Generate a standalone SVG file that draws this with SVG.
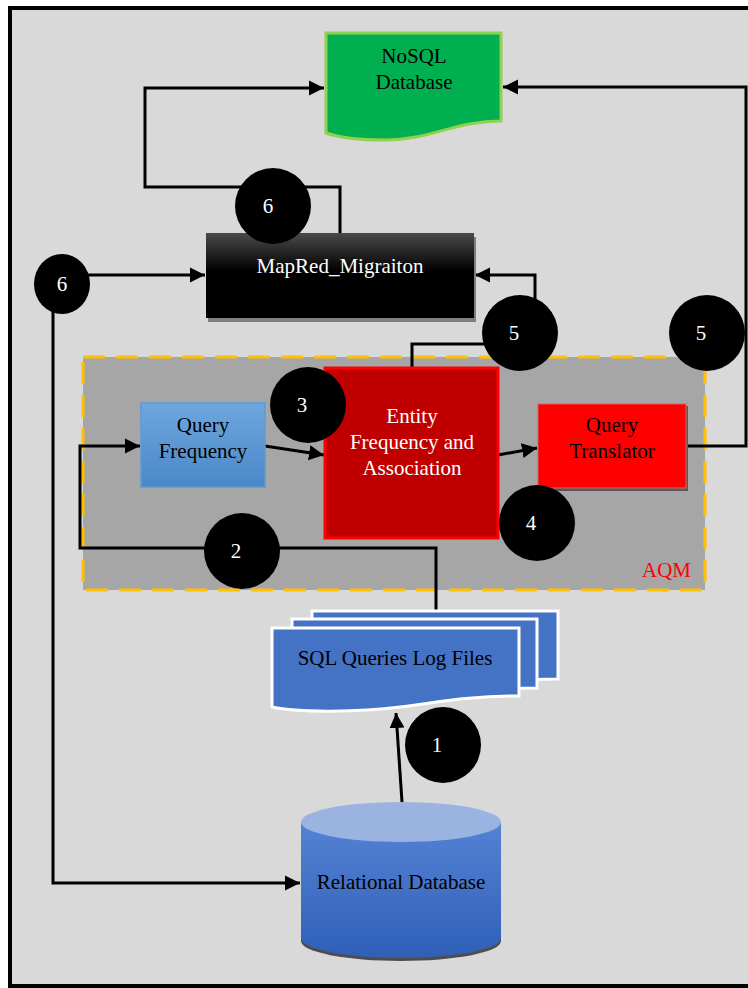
<svg xmlns="http://www.w3.org/2000/svg" width="748" height="988" viewBox="0 0 748 988">
<defs>
<style>
.t{font-family:"Liberation Serif","Times New Roman",serif;font-size:21px;text-anchor:middle}
.w{fill:#ffffff}
.k{fill:#000000}
.conn{fill:none;stroke:#000;stroke-width:3}
.num{fill:#000}
.doc{fill:#4472c4;stroke:#ffffff;stroke-width:3}
</style>
<marker id="ah" markerUnits="userSpaceOnUse" markerWidth="16" markerHeight="16" refX="15" refY="8" orient="auto">
<path d="M0,0.5 L15,8 L0,15.5 z" fill="#000"/>
</marker>
<linearGradient id="gMap" x1="0" y1="0" x2="0" y2="1">
<stop offset="0" stop-color="#4a4a4a"/>
<stop offset="0.45" stop-color="#000"/>
<stop offset="1" stop-color="#000"/>
</linearGradient>
<linearGradient id="gQF" x1="0" y1="0" x2="0" y2="1">
<stop offset="0" stop-color="#6fa6de"/>
<stop offset="1" stop-color="#4a88c9"/>
</linearGradient>
<linearGradient id="gCyl" x1="0" y1="0" x2="0" y2="1">
<stop offset="0" stop-color="#5482d4"/>
<stop offset="1" stop-color="#2f5fb7"/>
</linearGradient>
</defs>

<rect id="frame" x="10" y="8" width="760" height="978" fill="#d9d9d9" stroke="#000" stroke-width="4"/>

<g id="aqm">
<rect x="83" y="357" width="622" height="233" fill="#a6a6a6" stroke="#ffc000" stroke-width="3" stroke-dasharray="22,11"/>
<text class="t" x="691" y="577" fill="#ff0000" style="text-anchor:end">AQM</text>
</g>

<g id="connectors">
<path class="conn" d="M340,233 V187 H145 V88 H324" marker-end="url(#ah)"/>
<path class="conn" d="M686,446 H746 V87 H503" marker-end="url(#ah)"/>
<path class="conn" d="M80,275 H205" marker-end="url(#ah)"/>
<path class="conn" d="M53,300 V883 H300" marker-end="url(#ah)"/>
<path class="conn" d="M412,368 V344 H535 V275 H475" marker-end="url(#ah)"/>
<path class="conn" d="M436,610 V548 H80 V446 H140" marker-end="url(#ah)"/>
<path class="conn" d="M265,446 L324,455" marker-end="url(#ah)"/>
<path class="conn" d="M498,455 L537,448" marker-end="url(#ah)"/>
<path class="conn" d="M402,802 L396,713" marker-end="url(#ah)"/>
</g>

<g id="nosql">
<path d="M326,33 H501 V121 C455,121 430,140 385,140 C360,140 340,138 326,133 Z" fill="#00b050" stroke="#92d050" stroke-width="3"/>
<text class="t k" x="414" y="63">NoSQL</text>
<text class="t k" x="414" y="89">Database</text>
</g>

<g id="mapred">
<rect x="208" y="237" width="268" height="85" fill="#7f7f7f"/>
<rect x="206" y="233" width="268" height="85" fill="url(#gMap)"/>
<text class="t w" x="340" y="273">MapRed_Migraiton</text>
</g>

<g id="queryfreq">
<rect x="141" y="403" width="124" height="84" fill="url(#gQF)" stroke="#5b9bd5" stroke-width="1.5"/>
<text class="t k" x="203" y="432">Query</text>
<text class="t k" x="203" y="458">Frequency</text>
</g>

<g id="entity">
<rect x="325" y="368" width="173" height="170" fill="#c00000" stroke="#ff0000" stroke-width="3"/>
<text class="t w" x="412" y="423">Entity</text>
<text class="t w" x="412" y="449">Frequency and</text>
<text class="t w" x="412" y="475">Association</text>
</g>

<g id="translator">
<rect x="540" y="406" width="148" height="85" fill="#595959"/>
<rect x="538" y="404" width="148" height="84" fill="#ff0000" stroke="#e06060" stroke-width="1"/>
<text class="t k" x="612" y="432">Query</text>
<text class="t k" x="612" y="458">Translator</text>
</g>

<g id="logfiles">
<path class="doc" d="M312,611 H558 V679 C510,679 480,685 440,690 C400,695 340,696 312,690 Z"/>
<path class="doc" d="M292,619 H537 V688 C490,688 460,694 420,699 C380,704 320,705 292,699 Z"/>
<path class="doc" d="M272,628 H519 V696 C470,696 440,702 400,707 C360,712 300,713 272,707 Z"/>
<text class="t k" x="395" y="665">SQL Queries Log Files</text>
</g>

<g id="relational">
<path d="M301,826 V938 A100,20 0 0 0 501,938 V826 Z" fill="#4d4d4d" transform="translate(0,3)"/>
<path d="M301,822 V938 A100,20 0 0 0 501,938 V822 Z" fill="url(#gCyl)"/>
<ellipse cx="401" cy="822" rx="100" ry="20" fill="#9ab3e0"/>
<text class="t k" x="401" y="889">Relational Database</text>
</g>

<g id="badges">
<g id="b6top"><ellipse cx="273" cy="206" rx="38" ry="38" class="num"/><text class="t w" x="268" y="213">6</text></g>
<g id="b6left"><ellipse cx="62" cy="284" rx="28" ry="30" class="num"/><text class="t w" x="62" y="291">6</text></g>
<g id="b5mid"><ellipse cx="520" cy="333" rx="38" ry="38" class="num"/><text class="t w" x="514" y="340">5</text></g>
<g id="b5right"><ellipse cx="707" cy="333" rx="38" ry="38" class="num"/><text class="t w" x="701" y="340">5</text></g>
<g id="b3"><ellipse cx="308" cy="405" rx="38" ry="38" class="num"/><text class="t w" x="302" y="412">3</text></g>
<g id="b4"><ellipse cx="537" cy="523" rx="38" ry="38" class="num"/><text class="t w" x="531" y="530">4</text></g>
<g id="b2"><ellipse cx="242" cy="551" rx="38" ry="38" class="num"/><text class="t w" x="236" y="558">2</text></g>
<g id="b1"><ellipse cx="443" cy="745" rx="38" ry="38" class="num"/><text class="t w" x="437" y="752">1</text></g>
</g>
</svg>
